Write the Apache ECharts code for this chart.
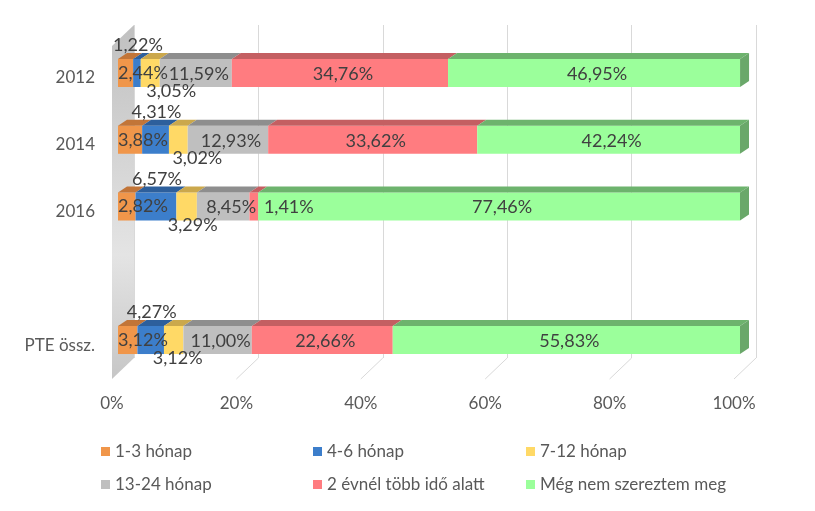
<!DOCTYPE html>
<html>
<head>
<meta charset="utf-8">
<script src="https://cdn.jsdelivr.net/npm/echarts@6/dist/echarts.min.js"></script>
<style>
html,body{margin:0;padding:0;background:#fff;}
#chart{width:815px;height:511px;}
</style>
</head>
<body>
<div id="chart"></div>
<script>
// ---- data ----
const categories = ['2012', '2014', '2016', '', 'PTE össz.'];
const seriesNames = ['1-3 hónap', '4-6 hónap', '7-12 hónap', '13-24 hónap', '2 évnél több idő alatt', 'Még nem szereztem meg'];
const months1to3   = [2.44, 3.88, 2.82, null, 3.12];
const months4to6   = [1.22, 4.31, 6.57, null, 4.27];
const months7to12  = [3.05, 3.02, 3.29, null, 3.12];
const months13to24 = [11.59, 12.93, 8.45, null, 11.00];
const over2years   = [34.76, 33.62, 1.41, null, 22.66];
const notYet       = [46.95, 42.24, 77.46, null, 55.83];
const xTicks = [0, 20, 40, 60, 80, 100];

// ---- style ----
const frontColors = ['#F0964A', '#3C7ECB', '#FFD966', '#BFBFBF', '#FF7C80', '#9BFF9B'];
const topColors   = ['#C27538', '#2D5F9C', '#CBA84C', '#8E8E8E', '#C45F62', '#6DB36D'];
const sideColor = '#6AA86A';
const labelMode = ['left', 'top', 'bottom', 'center', 'center', 'center'];
const labelNudge = { '2-0': 18, '2-1': 16, '2-2': 3, '2-4': 1, '4-2': 32, '3-2': 5 };
const DX = 9, DY = -6;
const labelFont = '18px Lato';

const allValues = [months1to3, months4to6, months7to12, months13to24, over2years, notYet];

// stacked data
const stackData = [];
const acc = categories.map(() => 0);
allValues.forEach((vals, k) => {
  const arr = [];
  vals.forEach((v, i) => {
    if (v == null) return;
    arr.push([acc[i], i, acc[i] + v, v]);
    acc[i] += v;
  });
  stackData.push(arr);
});

function fmt(v) { return v.toFixed(2).replace('.', ',') + '%'; }

function geom(api) {
  const s = api.value(0), c = api.value(1), e = api.value(2);
  const p0 = api.coord([s, c]), p1 = api.coord([e, c]);
  const band = api.size([0, 1])[1];
  const h = band * 0.42;
  return { x0: p0[0], x1: p1[0], yc: p0[1], yT: p0[1] - h / 2, yB: p0[1] + h / 2, c: c };
}

function barRender(k) {
  return function (params, api) {
    const g = geom(api);
    const children = [
      { type: 'rect', shape: { x: g.x0, y: g.yT, width: g.x1 - g.x0, height: g.yB - g.yT },
        style: { fill: frontColors[k] } },
      { type: 'polygon', shape: { points: [[g.x0, g.yT], [g.x1, g.yT], [g.x1 + DX, g.yT + DY], [g.x0 + DX, g.yT + DY]] },
        style: { fill: topColors[k] } }
    ];
    if (k === allValues.length - 1) {
      children.push({ type: 'polygon', shape: { points: [[g.x1, g.yT], [g.x1 + DX, g.yT + DY], [g.x1 + DX, g.yB + DY], [g.x1, g.yB]] },
        style: { fill: sideColor } });
    }
    return { type: 'group', children: children };
  };
}

function labelRender(k) {
  return function (params, api) {
    const g = geom(api);
    const v = api.value(3);
    const nudge = labelNudge[k + '-' + g.c] || 0;
    const mode = labelMode[k];
    let x, y, align = 'center';
    if (mode === 'left') { x = g.x0; y = g.yc; align = 'left'; }
    else if (mode === 'top') { x = (g.x0 + g.x1) / 2 + 1; y = g.yT - 13.5; }
    else if (mode === 'bottom') { x = (g.x0 + g.x1) / 2 + 3; y = g.yB + 4.5; }
    else { x = (g.x0 + g.x1) / 2 + 3; y = g.yc + 1; }
    x += nudge;
    return { type: 'text', style: { text: fmt(v), x: x, y: y, align: align, verticalAlign: 'middle', font: labelFont, fill: '#404040' } };
  };
}

function catLabelRender(params, api) {
  const i = api.value(0);
  const p = api.coord([0, i]);
  return { type: 'text', style: { text: categories[i], x: p[0] - 23, y: p[1] + 5, align: 'right', verticalAlign: 'middle',
    font: '17px Lato', fill: '#595959' } };
}

function decoRender(params, api) {
  const v = api.value(0);
  const pb = api.coord([v, 0]);
  const children = [];
  if (v === 0) {
    const pt = api.coord([v, 1]);
    children.push({ type: 'polygon',
      shape: { points: [[pt[0], pt[1]], [pb[0], pb[1]], [pb[0] - 22, pb[1] + 21], [pt[0] - 22, pt[1] + 21]] },
      style: { fill: new echarts.graphic.LinearGradient(0, 0, 0, 1, [
        { offset: 0, color: '#c0c0c0' }, { offset: 0.65, color: '#e4e4e4' }, { offset: 1, color: '#c6c6c6' }]) } });
  } else {
    children.push({ type: 'line', shape: { x1: pb[0], y1: pb[1], x2: pb[0] - 22, y2: pb[1] + 21 },
      style: { stroke: '#d9d9d9', lineWidth: 1 } });
  }
  return { type: 'group', children: children };
}

const series = [];
series.push({ type: 'custom', name: 'deco', xAxisIndex: 1, yAxisIndex: 1, z: 1, silent: true,
  renderItem: decoRender, data: xTicks.map(t => [t]), encode: { x: 0 } });
stackData.forEach((d, k) => {
  series.push({ type: 'custom', name: seriesNames[k], xAxisIndex: 0, yAxisIndex: 0, z: 3,
    itemStyle: { color: frontColors[k] }, renderItem: barRender(k), data: d, encode: { x: [0, 2], y: 1 } });
});
stackData.forEach((d, k) => {
  series.push({ type: 'custom', name: 'lbl' + k, xAxisIndex: 0, yAxisIndex: 0, z: 5, silent: true,
    renderItem: labelRender(k), data: d, encode: { x: [0, 2], y: 1 } });
});
series.push({ type: 'custom', name: 'cats', xAxisIndex: 0, yAxisIndex: 0, z: 5, silent: true,
  renderItem: catLabelRender, data: categories.map((c, i) => [i]), encode: { y: 0 } });

const legendText = { color: '#595959', fontSize: 17, fontFamily: 'Lato' };
const legendBase = { orient: 'vertical', top: 438, itemGap: 16, itemWidth: 9, itemHeight: 9, icon: 'rect',
  textStyle: legendText, selectedMode: false };

const option = {
  backgroundColor: '#ffffff',
  animation: false,
  grid: [
    { left: 118, right: 75, top: 39.6, bottom: 137.6 },
    { left: 134, right: 59, top: 25, bottom: 153 }
  ],
  xAxis: [
    { type: 'value', gridIndex: 0, min: 0, max: 100, interval: 20,
      axisLabel: { formatter: '{value}%', color: '#595959', fontSize: 17, fontFamily: 'Lato', margin: 22, padding: [0, 12, 0, 0] },
      axisLine: { show: false }, axisTick: { show: false }, splitLine: { show: false } },
    { type: 'value', gridIndex: 1, min: 0, max: 100, interval: 20,
      axisLabel: { show: false }, axisLine: { show: false }, axisTick: { show: false },
      splitLine: { show: true, lineStyle: { color: '#d9d9d9', width: 1 } } }
  ],
  yAxis: [
    { type: 'category', gridIndex: 0, data: categories, inverse: true,
      axisLabel: { show: false },
      axisLine: { show: false }, axisTick: { show: false }, splitLine: { show: false } },
    { type: 'value', gridIndex: 1, min: 0, max: 1, show: false }
  ],
  legend: [
    Object.assign({}, legendBase, { left: 96, data: [seriesNames[0], seriesNames[3]] }),
    Object.assign({}, legendBase, { left: 308, data: [seriesNames[1], seriesNames[4]] }),
    Object.assign({}, legendBase, { left: 521, data: [seriesNames[2], seriesNames[5]] })
  ],
  series: series
};

const chart = echarts.init(document.getElementById('chart'), null, { renderer: 'canvas' });
chart.setOption(option);
</script>
</body>
</html>
